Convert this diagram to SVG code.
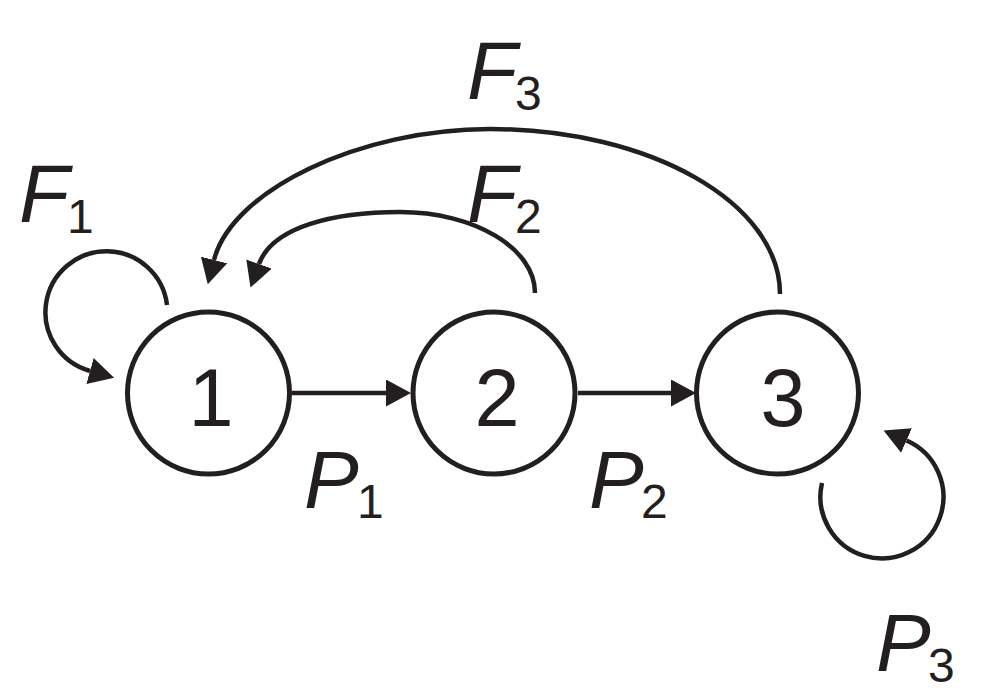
<svg xmlns="http://www.w3.org/2000/svg" width="982" height="696" viewBox="0 0 982 696">
  <style>
    .node { fill: #ffffff; stroke: #231f20; stroke-width: 5; }
    .num { font-family: "Liberation Sans", Arial, sans-serif; font-size: 81px; fill: #231f20; text-anchor: middle; }
    .edge { fill: none; stroke: #231f20; stroke-width: 4.5; }
    .lbl { font-family: "Liberation Sans", Arial, sans-serif; font-size: 82px; font-style: italic; fill: #231f20; }
    .sub { font-family: "Liberation Sans", Arial, sans-serif; font-size: 48px; fill: #231f20; }
  </style>
  <defs>
    <marker id="arrow" markerUnits="userSpaceOnUse" markerWidth="26" markerHeight="28" refX="0" refY="13.5" orient="auto" viewBox="0 0 26 28">
      <path d="M0,0 L25,13.5 L0,27 z" fill="#231f20"/>
    </marker>
  </defs>
  <rect width="982" height="696" fill="#ffffff"/>
  <g id="connectors">
    <path class="edge" d="M292,393 L386,393" marker-end="url(#arrow)"/>
    <path class="edge" d="M578,393 L671,393" marker-end="url(#arrow)"/>
    <path class="edge" d="M535,293 C535,248 474,212 400,212 C335,212 272.6,226.4 259,264" marker-end="url(#arrow)"/>
    <path class="edge" d="M780,294 C780,203 650,129 490,129 C360,129 232,190 214,260" marker-end="url(#arrow)"/>
    <path class="edge" d="M167,305 A61,61 0 1 0 90,371" marker-end="url(#arrow)"/>
    <path class="edge" d="M822,483 A61.5,61.5 0 1 0 906.5,440.5" marker-end="url(#arrow)"/>
  </g>
  <g id="labels">
    <g id="label-F1"><text class="lbl" x="19" y="222">F</text><text class="sub" x="67" y="233">1</text></g>
    <g id="label-F2"><text class="lbl" x="467" y="222">F</text><text class="sub" x="515" y="233">2</text></g>
    <g id="label-F3"><text class="lbl" x="467" y="99">F</text><text class="sub" x="515" y="110">3</text></g>
    <g id="label-P1"><text class="lbl" x="304" y="508">P</text><text class="sub" x="357" y="518">1</text></g>
    <g id="label-P2"><text class="lbl" x="589" y="508">P</text><text class="sub" x="641" y="518">2</text></g>
    <g id="label-P3"><text class="lbl" x="876" y="671">P</text><text class="sub" x="928" y="682">3</text></g>
  </g>
  <g id="node-1">
    <circle class="node" cx="208.5" cy="393" r="81"/>
    <text class="num" x="211" y="426">1</text>
  </g>
  <g id="node-2">
    <circle class="node" cx="494" cy="393" r="81"/>
    <text class="num" x="497" y="426">2</text>
  </g>
  <g id="node-3">
    <circle class="node" cx="777.5" cy="393" r="81"/>
    <text class="num" x="783" y="426">3</text>
  </g>
</svg>
